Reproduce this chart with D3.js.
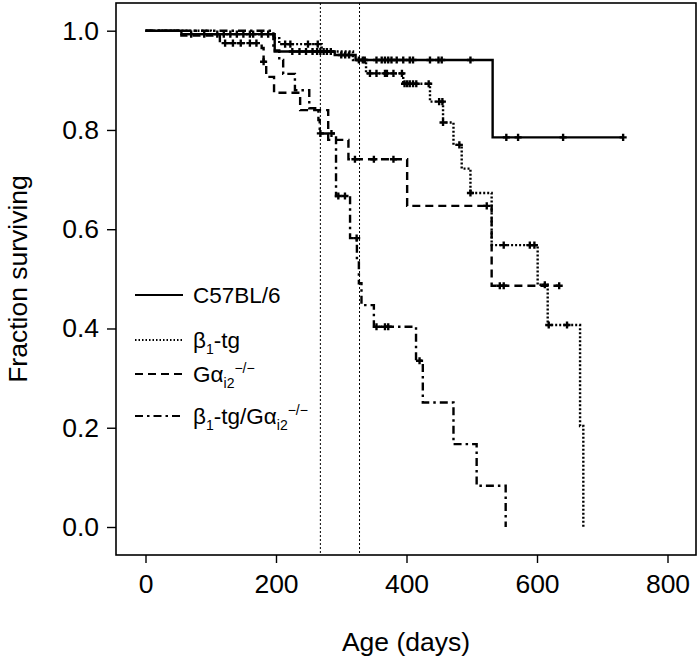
<!DOCTYPE html>
<html><head><meta charset="utf-8">
<script src="https://cdn.jsdelivr.net/npm/d3@7"></script>
<style>body{margin:0;background:#fff}svg{display:block}text{font-family:"Liberation Sans",Arial,sans-serif;fill:#000}</style>
</head><body>
<svg id="chart" width="700" height="658"></svg>
<script>
// ---- data ----
const xTicks = [0, 200, 400, 600, 800];
const yTicks = [0.0, 0.2, 0.4, 0.6, 0.8, 1.0];
const refLines = [268, 328];

const c57Times = [0, 55, 198, 290, 322, 532];
const c57Surv  = [1.0, 0.993, 0.958, 0.951, 0.941, 0.785];
const c57End = 732;
const c57Cens = [[70,0.993],[90,0.993],[110,0.993],[130,0.993],[150,0.993],[165,0.993],[178,0.993],[188,0.993],
  [225,0.958],[236,0.958],[246,0.958],[256,0.958],[263,0.958],[268,0.958],[273,0.958],[278,0.958],[284,0.958],
  [300,0.951],[306,0.951],[312,0.951],
  [336,0.941],[354,0.941],[362,0.941],[367,0.941],[372,0.941],[377,0.941],[385,0.941],[395,0.941],[405,0.941],[410,0.941],[436,0.941],[449,0.941],[454,0.941],[498,0.941],
  [553,0.785],[571,0.785],[640,0.785],[732,0.785]];

const b1Times = [0, 100, 196, 205, 270, 318, 338, 395, 436, 456, 472, 484.6, 498, 530.5, 601, 616.4, 666, 671];
const b1Surv  = [1.0, 0.993, 0.985, 0.973, 0.958, 0.941, 0.914, 0.893, 0.857, 0.815, 0.770, 0.722, 0.673, 0.568, 0.488, 0.407, 0.2035, 0.0];
const b1End = 671;
const b1Cens = [[120,0.993],[140,0.993],[160,0.993],[214,0.973],[222,0.973],[249,0.973],[264,0.973],
  [327,0.941],[333,0.941],[344,0.914],[354,0.914],[367,0.914],[370,0.914],[380,0.914],[393,0.914],
  [397,0.893],[401,0.893],[405,0.893],[410,0.893],[415,0.893],[434,0.893],[450,0.857],[455,0.857],[456,0.815],
  [481,0.770],[498,0.673],[549,0.568],[589,0.568],[596,0.568],[612,0.488],[618,0.407],[646,0.407]];

const gaTimes = [0, 55, 114, 178, 181, 185, 197, 237, 280, 311, 401, 530.5];
const gaSurv  = [1.0, 0.99, 0.975, 0.965, 0.9375, 0.907, 0.875, 0.84, 0.78, 0.741, 0.647, 0.486];
const gaEnd = 634;
const gaCens = [[122,0.975],[134,0.975],[146,0.975],[160,0.975],[170,0.975],[181,0.9375],
  [321,0.741],[350,0.741],[380,0.741],[523,0.647],[543,0.486],[549,0.486],[634,0.486]];

const dkTimes = [0, 196, 205, 211, 229, 251, 265, 267, 292, 313.5, 324, 327, 331, 350, 414.6, 425, 472, 507.5, 552];
const dkSurv  = [1.0, 0.96, 0.941, 0.913, 0.880, 0.8436, 0.82, 0.793, 0.667, 0.582, 0.536, 0.491, 0.447, 0.4036, 0.335, 0.251, 0.167, 0.083, 0.0];
const dkEnd = 552;
const dkCens = [[268,0.793],[285,0.793],[295.5,0.667],[305.7,0.667],[323.6,0.582],[354,0.4036],[367,0.4036],[372,0.4036],[420,0.335]];

const legendNames = ["C57BL/6", "β1-tg", "Gαi2−/−", "β1-tg/Gαi2−/−"];

// ---- layout ----
const svg = d3.select("#chart");
const box = {l:116, r:696, t:3, b:555};
const x = d3.scaleLinear().domain([0, 800]).range([145.5, 667.5]);
const y = d3.scaleLinear().domain([0, 1]).range([527, 30.7]);

// reference vertical lines
svg.selectAll("line.ref").data(refLines).enter().append("line")
  .attr("x1", d => x(d)).attr("x2", d => x(d)).attr("y1", box.t).attr("y2", box.b)
  .attr("stroke", "#000").attr("stroke-width", 1).attr("stroke-dasharray", "2,2");

const series = [
  {t:c57Times, s:c57Surv, end:c57End, cens:c57Cens, dash:null, w:2.4},
  {t:b1Times, s:b1Surv, end:b1End, cens:b1Cens, dash:"2,2", w:2.4},
  {t:gaTimes, s:gaSurv, end:gaEnd, cens:gaCens, dash:"8,5", w:2.4},
  {t:dkTimes, s:dkSurv, end:dkEnd, cens:dkCens, dash:"8,4,2.5,4", w:2.4}
];
const line = d3.line().x(d => x(d[0])).y(d => y(d[1])).curve(d3.curveStepAfter);
const cross = d3.symbol().type(d3.symbolCross).size(28);
series.forEach(sr => {
  const pts = sr.t.map((t, i) => [t, sr.s[i]]);
  const last = sr.s[sr.s.length - 1];
  if (sr.end > sr.t[sr.t.length - 1]) pts.push([sr.end, last]);
  svg.append("path").attr("d", line(pts)).attr("fill", "none").attr("stroke", "#000")
    .attr("stroke-width", sr.w).attr("stroke-dasharray", sr.dash);
  svg.append("g").selectAll("path").data(sr.cens).enter().append("path")
    .attr("d", cross).attr("transform", d => `translate(${x(d[0])},${y(d[1])})`).attr("fill", "#000");
});

// box
svg.append("rect").attr("x", box.l).attr("y", box.t).attr("width", box.r - box.l).attr("height", box.b - box.t)
  .attr("fill", "none").attr("stroke", "#000").attr("stroke-width", 1.6);

// axes
const xAxis = svg.append("g").attr("transform", `translate(0,${box.b})`)
  .call(d3.axisBottom(x).tickValues(xTicks).tickSize(8).tickPadding(11).tickFormat(d3.format("d")));
const yAxis = svg.append("g").attr("transform", `translate(${box.l},0)`)
  .call(d3.axisLeft(y).tickValues(yTicks).tickSize(9).tickPadding(8).tickFormat(d3.format(".1f")));
[xAxis, yAxis].forEach(a => {
  a.select(".domain").remove();
  a.selectAll(".tick line").attr("stroke", "#000").attr("stroke-width", 1.4);
  a.selectAll(".tick text").style("font-size", "26.5px").attr("font-family", "Liberation Sans, Arial, sans-serif");
});

svg.append("text").attr("x", 406).attr("y", 651).attr("text-anchor", "middle").style("font-size", "26.5px").text("Age (days)");
svg.append("text").attr("transform", "translate(27,279) rotate(-90)").attr("text-anchor", "middle").style("font-size", "26.5px").text("Fraction surviving");

// legend
const legY = [295, 340, 374, 416];
const legG = svg.append("g");
series.forEach((sr, i) => {
  legG.append("line").attr("x1", 135).attr("x2", 183).attr("y1", legY[i]).attr("y2", legY[i])
    .attr("stroke", "#000").attr("stroke-width", 2).attr("stroke-dasharray", i === 1 ? "1.5,2" : sr.dash);
});
function addLabel(i, parts) {
  const t = legG.append("text").attr("x", 193).attr("y", legY[i] + 8).style("font-size", "22.5px");
  parts.forEach(p => {
    const ts = t.append("tspan").text(p.s);
    if (p.sub || p.sup) ts.style("font-size", "14px").attr("dy", p.dy);
    else if (p.dy) ts.attr("dy", p.dy);
  });
}
addLabel(0, [{s: legendNames[0]}]);
addLabel(1, [{s:"β"}, {s:"1", sub:true, dy:6}, {s:"-tg", dy:-6}]);
addLabel(2, [{s:"Gα"}, {s:"i2", sub:true, dy:6}, {s:"−/−", sup:true, dy:-15}]);
addLabel(3, [{s:"β"}, {s:"1", sub:true, dy:6}, {s:"-tg/Gα", dy:-6}, {s:"i2", sub:true, dy:6}, {s:"−/−", sup:true, dy:-15}]);
</script>
</body></html>
